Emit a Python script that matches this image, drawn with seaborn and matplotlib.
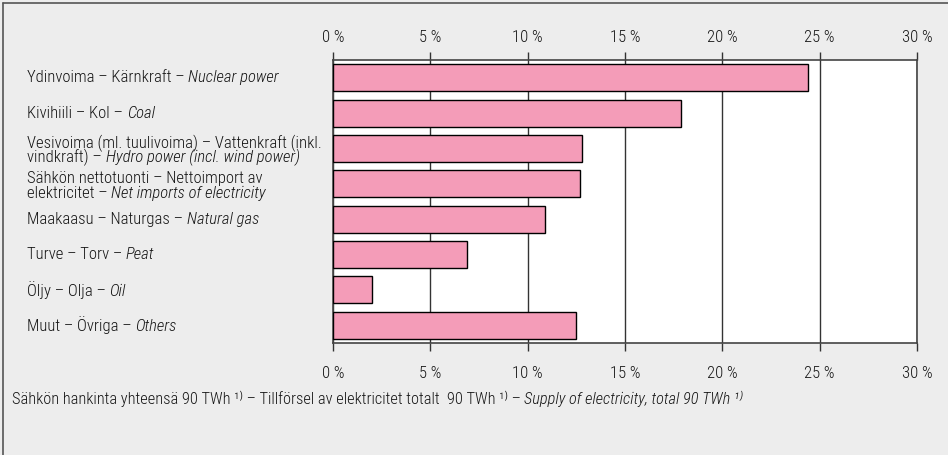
import numpy as np
import pandas as pd
import matplotlib.pyplot as plt
import seaborn as sns
from matplotlib.lines import Line2D

# data
lahde_fi_sv = ['Ydinvoima – Kärnkraft – ',
               'Kivihiili – Kol – ',
               'Vesivoima (ml. tuulivoima) – Vattenkraft (inkl.\nvindkraft) – ',
               'Sähkön nettotuonti – Nettoimport av\nelektricitet – ',
               'Maakaasu – Naturgas – ',
               'Turve – Torv – ',
               'Öljy – Olja – ',
               'Muut – Övriga – ']
lahde_en = ['Nuclear power', 'Coal', 'Hydro power (incl. wind power)',
            'Net imports of electricity', 'Natural gas', 'Peat', 'Oil', 'Others']
osuus = [24.4, 17.9, 12.8, 12.7, 10.9, 6.9, 2.0, 12.5]
x_ticks = [0, 5, 10, 15, 20, 25, 30]
x_labels = ['0 %', '5 %', '10 %', '15 %', '20 %', '25 %', '30 %']

df = pd.DataFrame({'lahde': lahde_en, 'osuus': osuus})

sns.set_style('white')
fonts = ['Roboto Condensed', 'DejaVu Sans']
plt.rcParams['font.family'] = fonts
plt.rcParams['font.size'] = 12
txt_col = '#151515'

fig = plt.figure(figsize=(9.48, 4.55), dpi=100, facecolor='#ededed')
ax = fig.add_axes([333 / 948, 1 - 343 / 455, 584 / 948, 283 / 455])
ax.set_facecolor('white')

sns.barplot(data=df, x='osuus', y='lahde', orient='h', color='#f49cb8',
            saturation=1, edgecolor='black', linewidth=1, width=0.76, ax=ax, zorder=3)

ax.set_xlim(0, 30)
ax.set_ylim(7.5, -0.5)
ax.set_xticks(x_ticks)
ax.set_xticklabels(x_labels, fontsize=12, color=txt_col, fontweight='light')
ax.set_xlabel('')
ax.set_ylabel('')
ax.set_yticks([])
ax.tick_params(axis='x', which='both', top=False, bottom=True, labeltop=False, labelbottom=True,
               direction='out', length=6, width=1, color='#333333', pad=10.5)

# top axis with its own padding
ax_top = ax.secondary_xaxis('top')
ax_top.set_xticks(x_ticks)
ax_top.set_xticklabels(x_labels, fontsize=12, color=txt_col, fontweight='light')
ax_top.tick_params(axis='x', direction='out', length=6, width=1, color='#333333', pad=5)
ax_top.spines['top'].set_visible(False)

for x in x_ticks:
    ax.axvline(x, color='#333333', lw=1, zorder=1)
for s in ax.spines.values():
    s.set_color('#444444')
    s.set_linewidth(1.2)

# labels: normal finnish/swedish part + italic english part
ylos = 5.2 * 72 / 100   # first line offset, points
alas = -9.2 * 72 / 100  # second line offset, points
for i, (a, b) in enumerate(zip(lahde_fi_sv, lahde_en)):
    rivit = a.split('\n')
    if len(rivit) == 1:
        t = ax.annotate(a, xy=(27 / 948, i), xycoords=('figure fraction', 'data'),
                        va='center', ha='left', color=txt_col, fontweight='light')
    else:
        ax.annotate(rivit[0], xy=(27 / 948, i), xycoords=('figure fraction', 'data'),
                    xytext=(0, ylos), textcoords='offset points',
                    va='center', ha='left', color=txt_col, fontweight='light')
        t = ax.annotate(rivit[1], xy=(27 / 948, i), xycoords=('figure fraction', 'data'),
                        xytext=(0, alas), textcoords='offset points',
                        va='center', ha='left', color=txt_col, fontweight='light')
    ax.annotate(b, xy=(1, 0), xycoords=t, va='bottom', ha='left',
                style='italic', color=txt_col, fontweight='light')

# footnote
t1 = fig.text(12 / 948, 1 - 399 / 455,
              'Sähkön hankinta yhteensä 90 TWh ¹⁾ – Tillförsel av elektricitet totalt  90 TWh ¹⁾ – ',
              va='center', ha='left', color=txt_col, fontweight='light', fontsize=11.8)
ax.annotate('Supply of electricity, total 90 TWh ¹⁾', xy=(1, 0), xycoords=t1, fontsize=11.8,
            va='bottom', ha='left', style='italic', color=txt_col, fontweight='light')

# frame
fig.add_artist(Line2D([2.5 / 948, 2.5 / 948], [0, 1 - 2.5 / 455], transform=fig.transFigure,
                      color='#555555', lw=1.2))
fig.add_artist(Line2D([2.5 / 948, 1], [1 - 2.5 / 455, 1 - 2.5 / 455], transform=fig.transFigure,
                      color='#555555', lw=1.2))

plt.savefig('out.png', dpi=100, facecolor=fig.get_facecolor())
